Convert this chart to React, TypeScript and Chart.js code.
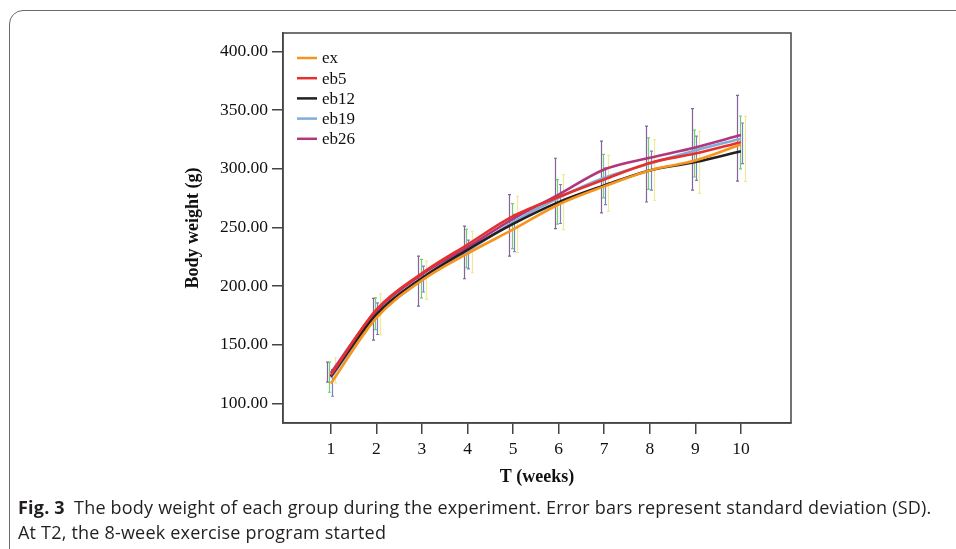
import React, { useEffect, useRef } from "react";
import { Chart, registerables } from "chart.js";
Chart.register(...registerables);

const weeks = [1, 2, 3, 4, 5, 6, 7, 8, 9, 10];
const xTickValues = [1, 2, 3, 4, 5, 6, 7, 8, 9, 10];
const yTickValues = [100, 150, 200, 250, 300, 350, 400];
const seriesNames = ["ex", "eb5", "eb12", "eb19", "eb26"];

const exValues = [117, 173, 205, 227.8, 248.3, 269.6, 285, 298.6, 307, 320.7];
const eb5Values = [124, 180, 211, 235.5, 259.6, 276, 290.9, 305, 313, 322.7];
const eb12Values = [123, 176, 207, 231, 253, 271.6, 285.8, 298.6, 305.7, 315];
const eb19Values = [122, 174, 205, 229.8, 254.5, 275.3, 292.3, 304.5, 315.6, 325.6];
const eb26Values = [126, 179, 210, 233.2, 257.4, 278, 299.4, 309.4, 318.2, 328.7];

// error bar groups: centre and standard deviation
const errPurpleMean = [126.7, 171.8, 204.3, 228.7, 251.8, 279, 293, 304, 316.5, 326];
const errPurpleSd = [8.5, 17.8, 21.3, 22.4, 26.2, 30, 30.5, 32.3, 34.7, 36.5];
const errGreenMean = [122.4, 176.5, 206.4, 232, 251.2, 271.8, 293.7, 304.4, 313, 322.5];
const errGreenSd = [12.8, 13.5, 16.4, 16.3, 19.2, 19, 18.5, 22, 20, 22.5];
const errBlueMean = [117.6, 172.3, 206, 227, 245.2, 270, 285.2, 298.4, 309, 321.7];
const errBlueSd = [11.4, 13.5, 11, 12.2, 15.9, 16.6, 15.7, 16.6, 18.8, 17.3];
const errYellowMean = [128.3, 176, 205, 229, 252.5, 271.6, 287.6, 299, 305.5, 317];
const errYellowSd = [10.7, 17.5, 16.3, 17.6, 24, 23.4, 23.8, 25.9, 26.5, 27.7];

const seriesValues = [exValues, eb5Values, eb12Values, eb19Values, eb26Values];
const seriesColors = ["#f7941d", "#e5302d", "#231f20", "#82acd8", "#b2367c"];

const errGroups = [
  { mean: errPurpleMean, sd: errPurpleSd, color: "rgba(128,90,150,0.95)", offset: -0.08 },
  { mean: errGreenMean, sd: errGreenSd, color: "rgba(100,200,100,0.9)", offset: -0.03 },
  { mean: errBlueMean, sd: errBlueSd, color: "rgba(110,115,190,0.9)", offset: 0.02 },
  { mean: errYellowMean, sd: errYellowSd, color: "rgba(238,232,150,0.95)", offset: 0.09 },
];

const SERIF = "'Liberation Serif', 'Times New Roman', serif";

const errorBarPlugin = {
  id: "errorBars",
  beforeDatasetsDraw(chart: any) {
    const { ctx, scales } = chart;
    const xs = scales.x;
    const ys = scales.y;
    ctx.save();
    ctx.lineWidth = 1.2;
    errGroups.forEach((g) => {
      ctx.strokeStyle = g.color;
      weeks.forEach((w, i) => {
        const x = Math.round(xs.getPixelForValue(w + g.offset)) + 0.5;
        const yt = ys.getPixelForValue(g.mean[i] + g.sd[i]);
        const yb = ys.getPixelForValue(g.mean[i] - g.sd[i]);
        ctx.beginPath();
        ctx.moveTo(x, yt);
        ctx.lineTo(x, yb);
        ctx.moveTo(x - 1.5, yt);
        ctx.lineTo(x + 1.5, yt);
        ctx.moveTo(x - 1.5, yb);
        ctx.lineTo(x + 1.5, yb);
        ctx.stroke();
      });
    });
    ctx.restore();
  },
  afterDraw(chart: any) {
    const { ctx, chartArea } = chart;
    ctx.save();
    ctx.strokeStyle = "#444";
    ctx.lineWidth = 1.5;
    ctx.strokeRect(chartArea.left, chartArea.top, chartArea.right - chartArea.left, chartArea.bottom - chartArea.top);
    // legend
    ctx.font = `17px ${SERIF}`;
    ctx.textBaseline = "middle";
    ctx.textAlign = "left";
    chart.data.datasets.forEach((ds: any, i: number) => {
      const y = chartArea.top + 25 + i * 20.2;
      ctx.strokeStyle = ds.borderColor;
      ctx.lineWidth = 2.5;
      ctx.beginPath();
      ctx.moveTo(chartArea.left + 14, y);
      ctx.lineTo(chartArea.left + 34, y);
      ctx.stroke();
      ctx.fillStyle = "#111";
      ctx.fillText(ds.label, chartArea.left + 39, y + 1);
    });
    ctx.restore();
  },
};

function ChartView() {
  const ref = useRef<HTMLCanvasElement>(null);
  useEffect(() => {
    if (!ref.current) return;
    const chart = new Chart(ref.current, {
      type: "line",
      data: {
        datasets: seriesNames.map((name, s) => ({
          label: name,
          data: weeks.map((w, i) => ({ x: w, y: seriesValues[s][i] })),
          borderColor: seriesColors[s],
          backgroundColor: seriesColors[s],
          borderWidth: 2.6,
          pointRadius: 0,
          cubicInterpolationMode: "monotone" as const,
          fill: false,
        })),
      },
      options: {
        responsive: false,
        animation: false,
        layout: { padding: { left: 178, right: 165, top: 33, bottom: 8 } },
        plugins: { legend: { display: false }, tooltip: { enabled: false } },
        scales: {
          x: {
            type: "linear",
            min: -0.05,
            max: 11.1,
            afterBuildTicks: (sc: any) => {
              sc.ticks = xTickValues.map((v) => ({ value: v }));
            },
            afterFit: (sc: any) => {
              sc.height = 69;
            },
            grid: { drawOnChartArea: false, tickLength: 11, color: "#444", lineWidth: 1.5 },
            border: { display: true, color: "#444", width: 1.5 },
            ticks: {
              color: "#111",
              font: { family: SERIF, size: 17.5 },
              padding: 5,
              maxRotation: 0,
              autoSkip: false,
            },
            title: {
              display: true,
              text: "T (weeks)",
              color: "#111",
              font: { family: SERIF, size: 18, weight: "bold" },
              padding: { top: 0, bottom: 4 },
            },
          },
          y: {
            type: "linear",
            min: 83.4,
            max: 415.7,
            afterBuildTicks: (sc: any) => {
              sc.ticks = yTickValues.map((v) => ({ value: v }));
            },
            afterFit: (sc: any) => {
              sc.width = 105;
            },
            grid: { drawOnChartArea: false, tickLength: 11, color: "#444", lineWidth: 1.5 },
            border: { display: true, color: "#444", width: 1.5 },
            ticks: {
              color: "#111",
              font: { family: SERIF, size: 17.5 },
              padding: 4,
              callback: (v: any) => Number(v).toFixed(2),
            },
            title: {
              display: true,
              text: "Body weight (g)",
              color: "#111",
              font: { family: SERIF, size: 18, weight: "bold" },
              padding: { top: 5, bottom: 0 },
            },
          },
        },
      },
      plugins: [errorBarPlugin],
    });
    return () => chart.destroy();
  }, []);
  return (
    <canvas
      ref={ref}
      width={956}
      height={500}
      style={{ position: "absolute", left: 0, top: 0, width: 956, height: 500 }}
    />
  );
}

export default function App() {
  return (
    <div
      style={{
        position: "fixed",
        left: 0,
        top: 0,
        width: 956,
        height: 549,
        overflow: "hidden",
        background: "#fff",
      }}
    >
      <div
        style={{
          position: "absolute",
          left: 9,
          top: 10,
          width: 980,
          height: 600,
          border: "1.5px solid #6a6a6a",
          borderRadius: 14,
          boxSizing: "border-box",
        }}
      />
      <ChartView />
      <div
        style={{
          position: "absolute",
          left: 18,
          top: 495,
          fontFamily: "'Open Sans', 'Noto Sans', sans-serif",
          fontSize: 18,
          letterSpacing: "0.2px",
          lineHeight: "25px",
          color: "#231f20",
          whiteSpace: "nowrap",
        }}
      >
        <span style={{ fontWeight: "bold" }}>Fig. 3</span>
        {"\u2002The body weight of each group during the experiment. Error bars represent standard deviation (SD)."}
        <br />
        {"At T2, the 8-week exercise program started"}
      </div>
    </div>
  );
}
